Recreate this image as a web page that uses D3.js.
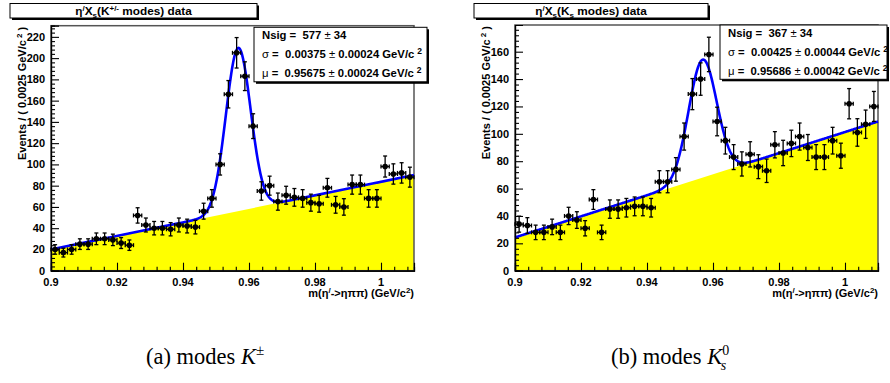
<!DOCTYPE html>
<html><head><meta charset="utf-8">
<script src="https://cdn.jsdelivr.net/npm/d3@7"></script>
<style>body{margin:0;background:#fff}svg{display:block}text{white-space:pre}</style>
</head><body><svg id="c" width="890" height="383"></svg>
<script>
// ---- data ----
const binLow = 0.9, binWidth = 0.0025;
const countsKpm = [20,17,20,25,25,30,30,29,26,24,52,43,40,40,39,43,42,41,56,68,100,166,205,183,136,75,80,65,71,69,68,64,63,78,62,60,81,81,68,68,98,91,92,88];
const countsKs  = [34,33,28,28,32,28,40,37,31,52,28,45,45,46,47,47,46,65,65,74,98,129,140,158,109,95,83,78,85,76,73,92,86,93,98,90,83,83,95,84,122,101,107,120];
// fit parameters: [Nsig, sigma, mu]
const fitKpm = [577, 0.00375, 0.95675];
const fitKs  = [367, 0.00425, 0.95686];
// linear background at x=0.9 and x=1.01
const bgKpm = [20, 90];
const bgKs  = [24.3, 109];
const xDomain = [0.9, 1.01];
const xTicks = [0.9, 0.92, 0.94, 0.96, 0.98, 1];
const yTicksKpm = [0,20,40,60,80,100,120,140,160,180,200,220];
const yTicksKs  = [0,20,40,60,80,100,120,140,160];
const statsKpm = ["577", "34", "0.00375", "0.00024", "0.95675", "0.00024"];
const statsKs  = ["367", "34", "0.00425", "0.00044", "0.95686", "0.00042"];

const FONT = "'Liberation Sans', Arial, Helvetica, sans-serif";
const svg = d3.select('#c');

function rich(g, x, y, parts, o) {
  const t = g.append('text').attr('x', x).attr('y', y)
    .attr('font-family', FONT).attr('font-size', o.fs)
    .attr('font-weight', o.fw || 'bold').attr('text-anchor', o.anchor || 'start')
    .attr('fill', '#000');
  if (o.transform) t.attr('transform', o.transform);
  let cur = 0;
  parts.forEach(p => {
    const s = p.s || 0;
    const ts = t.append('tspan').attr('dy', s - cur).text(p.t);
    cur = s;
    if (p.fs) ts.attr('font-size', p.fs);
    if (p.fw) ts.attr('font-weight', p.fw);
    if (p.dx) ts.attr('dx', p.dx);
  });
  return t;
}

function shadowBox(g, x, y, w, h) {
  g.append('rect').attr('x', x + 2).attr('y', y + 2).attr('width', w).attr('height', h).attr('fill', '#000');
  g.append('rect').attr('x', x).attr('y', y).attr('width', w).attr('height', h)
    .attr('fill', '#fff').attr('stroke', '#000').attr('stroke-width', 1);
}

function panel(cfg) {
  const g = svg.append('g');
  const x = d3.scaleLinear().domain(xDomain).range([cfg.x0, cfg.x1]);
  const y = d3.scaleLinear().domain([0, cfg.ymax]).range([cfg.yb, cfg.yt]);
  const [nsig, sig, mu] = cfg.fit;
  const bg = v => cfg.bg[0] + (cfg.bg[1] - cfg.bg[0]) * (v - xDomain[0]) / (xDomain[1] - xDomain[0]);
  const amp = nsig * binWidth / (sig * Math.sqrt(2 * Math.PI));
  const total = v => bg(v) + amp * Math.exp(-0.5 * ((v - mu) / sig) ** 2);

  // yellow background
  g.append('path').datum(xDomain)
    .attr('d', d3.area().x(d => x(d)).y0(y(0)).y1(d => y(bg(d))))
    .attr('fill', '#ffff00');

  // frame
  g.append('rect').attr('x', cfg.x0).attr('y', cfg.yt).attr('width', cfg.x1 - cfg.x0).attr('height', cfg.yb - cfg.yt)
    .attr('fill', 'none').attr('stroke', '#555').attr('stroke-width', 1.5);

  // fit curve
  const samples = d3.range(0, 601).map(i => xDomain[0] + (xDomain[1] - xDomain[0]) * i / 600);
  g.append('path').datum(samples)
    .attr('d', d3.line().x(d => x(d)).y(d => y(total(d))))
    .attr('fill', 'none').attr('stroke', '#0000ff').attr('stroke-width', 2.6);

  // data points
  const pts = cfg.counts.map((c, i) => ({ xc: binLow + binWidth * (i + 0.5), c, e: Math.sqrt(c) }));
  const pg = g.append('g').attr('stroke', '#000').attr('stroke-width', 1.3);
  pts.forEach(p => {
    const px = x(p.xc), py = y(p.c), pl = x(p.xc - binWidth / 2), pr = x(p.xc + binWidth / 2);
    const pu = y(p.c + p.e), pd = y(p.c - p.e);
    pg.append('line').attr('x1', pl).attr('x2', pr).attr('y1', py).attr('y2', py);
    pg.append('line').attr('x1', px).attr('x2', px).attr('y1', pu).attr('y2', pd);
    pg.append('line').attr('x1', px - 2).attr('x2', px + 2).attr('y1', pu).attr('y2', pu);
    pg.append('line').attr('x1', px - 2).attr('x2', px + 2).attr('y1', pd).attr('y2', pd);
    pg.append('line').attr('x1', pl).attr('x2', pl).attr('y1', py - 2).attr('y2', py + 2);
    pg.append('line').attr('x1', pr).attr('x2', pr).attr('y1', py - 2).attr('y2', py + 2);
    pg.append('circle').attr('cx', px).attr('cy', py).attr('r', 2.8).attr('fill', '#000').attr('stroke', 'none');
  });

  // axes
  g.append('g').attr('transform', `translate(${cfg.x0},0)`)
    .call(d3.axisRight(y).tickValues(cfg.yTicks).tickSize(8).tickFormat(''));
  const yMinor = d3.range(0, cfg.ymax, 4).filter(v => v % 20 !== 0);
  g.append('g').attr('transform', `translate(${cfg.x0},0)`)
    .call(d3.axisRight(y).tickValues(yMinor).tickSize(4).tickFormat(''));
  g.append('g').attr('transform', `translate(0,${cfg.yb})`)
    .call(d3.axisTop(x).tickValues(xTicks).tickSize(8).tickFormat(''));
  const xMinor = d3.range(0, 28).map(i => 0.9 + 0.004 * i).filter(v => v <= 1.01 && Math.abs((v - 0.9) / 0.02 - Math.round((v - 0.9) / 0.02)) > 1e-6);
  g.append('g').attr('transform', `translate(0,${cfg.yb})`)
    .call(d3.axisTop(x).tickValues(xMinor).tickSize(4).tickFormat(''));
  g.selectAll('.domain').attr('stroke', '#000').attr('stroke-width', 1.2);
  g.selectAll('.tick line').attr('stroke', '#000').attr('stroke-width', 1.1);

  // tick labels
  cfg.yTicks.forEach(v => {
    g.append('text').attr('x', cfg.x0 - 6).attr('y', y(v) + 4).attr('text-anchor', 'end')
      .attr('font-family', FONT).attr('font-weight', 'bold').attr('font-size', 11).text(d3.format('')(v));
  });
  xTicks.forEach(v => {
    g.append('text').attr('x', x(v)).attr('y', cfg.yb + 15).attr('text-anchor', 'middle')
      .attr('font-family', FONT).attr('font-weight', 'bold').attr('font-size', 11).text(d3.format('')(v));
  });

  // axis titles
  rich(g, cfg.x1, cfg.yb + 26, [
    { t: 'm(η' }, { t: '/', s: -4, fs: 8 }, { t: '->ηππ) (GeV/c', s: 0 }, { t: '2', s: -4, fs: 8 }, { t: ')', s: 0 }
  ], { fs: 11, anchor: 'end' });
  rich(g, 0, 0, [
    { t: 'Events / ( 0.0025 GeV/c' }, { t: ' 2', s: -4, fs: 8 }, { t: ' )', s: 0 }
  ], { fs: 11, anchor: 'end', transform: `translate(${cfg.x0 - 25},${cfg.yt + 1}) rotate(-90)` });

  // title box
  shadowBox(g, cfg.tb[0], cfg.tb[1], cfg.tb[2], cfg.tb[3]);
  rich(g, cfg.tb[0] + cfg.tb[2] / 2, cfg.tb[1] + 11.5, cfg.title, { fs: 11.8, anchor: 'middle' });

  // stats box
  const sb = cfg.sb;
  shadowBox(g, sb[0], sb[1], sb[2], sb[3]);
  const s = cfg.stats, tx = sb[0] + 8;
  rich(g, tx, sb[1] + 12, [{ t: 'Nsig =  ' + s[0] + ' ' }, { t: '±', fw: 'normal' }, { t: ' ' + s[1] }], { fs: 11.3 });
  rich(g, tx, sb[1] + 31, [{ t: 'σ', fw: 'normal' }, { t: ' =  ' + s[2] + ' ' }, { t: '±', fw: 'normal' },
    { t: ' ' + s[3] + ' GeV/c' }, { t: '2', s: -4, fs: 8.5, dx: 3 }], { fs: 11.3 });
  rich(g, tx, sb[1] + 50, [{ t: 'μ', fw: 'normal' }, { t: ' =  ' + s[4] + ' ' }, { t: '±', fw: 'normal' },
    { t: ' ' + s[5] + ' GeV/c' }, { t: '2', s: -4, fs: 8.5, dx: 3 }], { fs: 11.3 });
}

panel({
  x0: 51, x1: 414, yt: 25.7, yb: 270.7, ymax: 230.5,
  counts: countsKpm, fit: fitKpm, bg: bgKpm, yTicks: yTicksKpm, stats: statsKpm,
  tb: [10, 3.5, 247, 14.5], sb: [254, 27.3, 173, 54.5],
  title: [{ t: 'η' }, { t: '/', s: -4, fs: 8 }, { t: 'X', s: 0 }, { t: 's', s: 3, fs: 8 }, { t: '(K', s: 0 }, { t: '+/-', s: -4, fs: 8 }, { t: ' modes) data', s: 0 }]
});
panel({
  x0: 515, x1: 878, yt: 25, yb: 270.7, ymax: 179.5,
  counts: countsKs, fit: fitKs, bg: bgKs, yTicks: yTicksKs, stats: statsKs,
  tb: [474, 3.5, 234, 14.5], sb: [720, 25, 167, 54.3],
  title: [{ t: 'η' }, { t: '/', s: -4, fs: 8 }, { t: 'X', s: 0 }, { t: 's', s: 3, fs: 8 }, { t: '(K', s: 0 }, { t: 's', s: 3, fs: 8 }, { t: ' modes) data', s: 0 }]
});

// captions
function caption(xp, parts) {
  const t = svg.append('text').attr('x', xp).attr('y', 364).attr('font-family', "'Liberation Serif', serif").attr('font-size', 22.5);
  parts.forEach(p => {
    const ts = t.append('tspan').text(p.t);
    if (p.fs) ts.attr('font-size', p.fs);
    if (p.it) ts.attr('font-style', 'italic');
    if (p.y !== undefined) ts.attr('y', p.y);
  });
  return t;
}
caption(146, [{ t: '(a) modes ' }, { t: 'K', it: true }, { t: '±', y: 355, fs: 15 }]);
const capB = caption(611, [{ t: '(b) modes ' }, { t: 'K', it: true }, { t: '0', y: 355, fs: 14 }]);
// subscript s placed below the superscript, as LaTeX stacks them
const kEnd = capB.node().getComputedTextLength();
svg.append('text').attr('x', 611 + kEnd - 8.5).attr('y', 370).attr('font-family', "'Liberation Serif', serif")
  .attr('font-size', 14).attr('font-style', 'italic').text('s');
</script></body></html>
